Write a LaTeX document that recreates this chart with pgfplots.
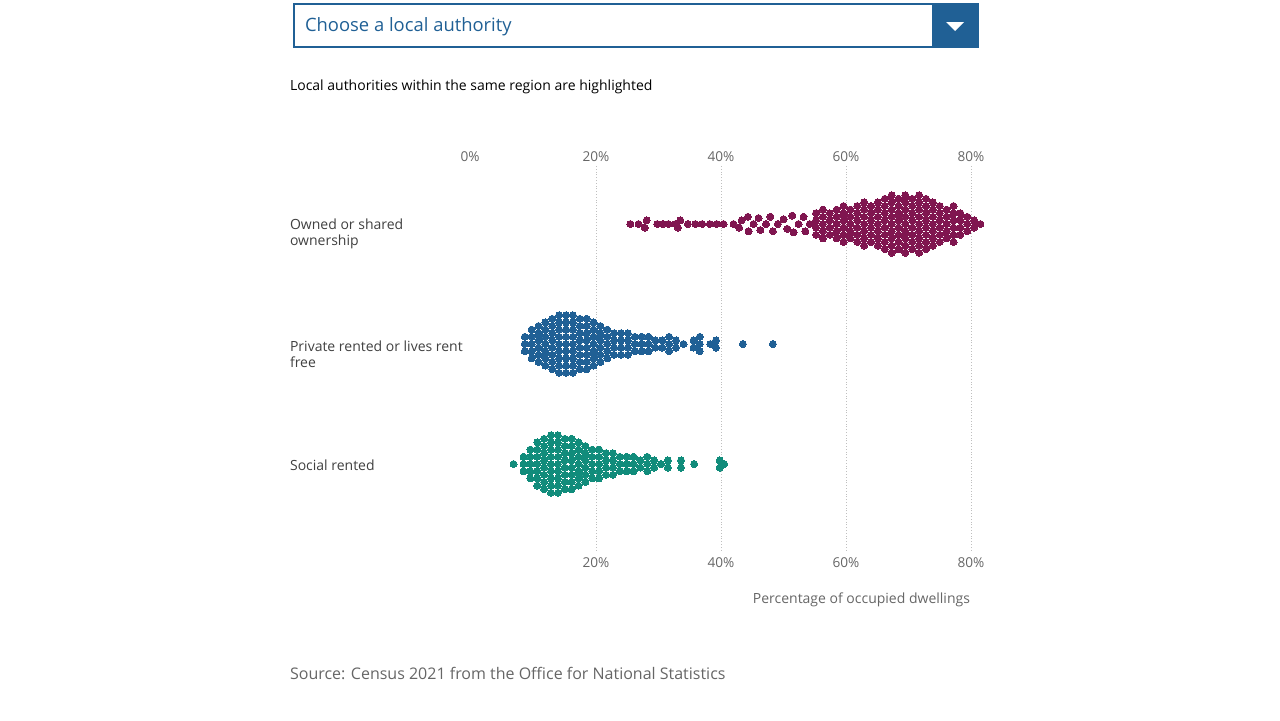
\documentclass[border=0pt]{standalone}
\usepackage{pgfplots}
\pgfplotsset{compat=1.18}
\usepackage{fontspec}
\setmainfont{Open Sans}
\definecolor{ownc}{HTML}{801650}
\definecolor{prvc}{HTML}{206095}
\definecolor{socc}{HTML}{118C7B}
\definecolor{gtx}{HTML}{666666}
\begin{document}
\begin{tikzpicture}
\begin{scope}[x=0.5pt,y=0.5pt]
\path (0,0) rectangle (1280,720);
\draw[prvc,line width=1pt] (294,716) rectangle (978,673);
\fill[prvc] (932,716) rectangle (978,673);
\fill[white] (946,698) -- (964,698) -- (955,689) -- cycle;
\node[anchor=west,text=prvc,font=\fontsize{9.2}{11}\selectfont] at (298,693) {Choose a local authority};
\node[anchor=west,font=\fontsize{7}{8.5}\selectfont] at (283,633) {Local authorities within the same region are highlighted};
\node[anchor=west,align=left,text=black!75,font=\fontsize{7}{8}\selectfont] at (283,486) {Owned or shared\\ownership};
\node[anchor=west,align=left,text=black!75,font=\fontsize{7}{8}\selectfont] at (283,366) {Private rented or lives rent\\free};
\node[anchor=west,text=black!75,font=\fontsize{7}{8}\selectfont] at (283,255) {Social rented};
\node[anchor=east,text=gtx,font=\fontsize{7}{8.5}\selectfont] at (977,120) {Percentage of occupied dwellings};
\node[anchor=west,text=gtx,font=\fontsize{8}{10}\selectfont] at (283,47) {Source: Census 2021 from the Office for National Statistics};
\foreach \px/\lab in {470/0,596/20,721/40,846/60,971/80}
  \node[text=gtx,font=\fontsize{6.8}{8}\selectfont] at (\px,563) {\lab\%};
\end{scope}
\begin{axis}[at={(235.5pt,84.8pt)},anchor=south west,width=250pt,height=192pt,scale only axis,
  xmin=0,xmax=80,ymin=0.28,ymax=3.48,clip=false,
  axis line style={draw=none},tick style={draw=none},
  xtick={-2.08,20,40,60,80},ytick=\empty,
  xticklabels={0\%,20\%,40\%,60\%,80\%},
  xticklabel style={text=gtx,font=\fontsize{6.8}{8}\selectfont},
  xmajorgrids,grid style={densely dotted,black!25,line width=0.5pt}]
\addplot[only marks,mark=*,mark size=1.75pt,color=ownc,mark options={fill=ownc,draw=ownc,line width=0pt}] coordinates {
(25.5,3)(26.8,3)(27.8,2.97)(28.1,3.03)(29.8,3)(30.7,3)(31.6,3)(32.7,3)(33.1,2.97)(33.5,3.03)(34.7,3)(35.9,3)(37,3)(38.2,3)(39.3,3)(40.4,3)(42,3)(42.9,2.97)(43.3,3.03)(44.3,3.06)(44.4,2.94)(45.2,3)(46,3.05)(46.3,2.95)(47.2,3)(47.9,3.06)(48.3,2.94)(49.1,3)(50,3.04)(50.6,2.96)(51.4,3.07)(51.6,2.93)(52.4,3)(53.2,3.06)(53.5,2.94)(54.2,3)
(55.2,2.97)(55.2,3.03)(55.2,2.91)(55.2,3.09)
(56.3,3)(56.3,3.06)(56.3,2.94)(56.3,3.12)(56.3,2.88)
(57.4,2.97)(57.4,3.03)(57.4,2.91)(57.4,3.09)
(58.5,3)(58.5,3.06)(58.5,2.94)(58.5,3.12)(58.5,2.88)
(59.6,2.97)(59.6,3.03)(59.6,2.91)(59.6,3.09)(59.6,2.85)(59.6,3.15)
(60.7,3)(60.7,3.06)(60.7,2.94)(60.7,3.12)(60.7,2.88)
(61.8,2.97)(61.8,3.03)(61.8,2.91)(61.8,3.09)(61.8,2.85)(61.8,3.15)
(62.9,3)(62.9,3.06)(62.9,2.94)(62.9,3.12)(62.9,2.88)(62.9,3.18)(62.9,2.82)
(64.0,2.97)(64.0,3.03)(64.0,2.91)(64.0,3.09)(64.0,2.85)(64.0,3.15)
(65.1,3)(65.1,3.06)(65.1,2.94)(65.1,3.12)(65.1,2.88)(65.1,3.18)(65.1,2.82)
(66.2,2.97)(66.2,3.03)(66.2,2.91)(66.2,3.09)(66.2,2.85)(66.2,3.15)(66.2,2.79)(66.2,3.21)
(67.3,3)(67.3,3.06)(67.3,2.94)(67.3,3.12)(67.3,2.88)(67.3,3.18)(67.3,2.82)(67.3,3.24)(67.3,2.76)
(68.4,2.97)(68.4,3.03)(68.4,2.91)(68.4,3.09)(68.4,2.85)(68.4,3.15)(68.4,2.79)(68.4,3.21)
(69.5,3)(69.5,3.06)(69.5,2.94)(69.5,3.12)(69.5,2.88)(69.5,3.18)(69.5,2.82)(69.5,3.24)(69.5,2.76)
(70.6,2.97)(70.6,3.03)(70.6,2.91)(70.6,3.09)(70.6,2.85)(70.6,3.15)(70.6,2.79)(70.6,3.21)
(71.7,3)(71.7,3.06)(71.7,2.94)(71.7,3.12)(71.7,2.88)(71.7,3.18)(71.7,2.82)(71.7,3.24)(71.7,2.76)
(72.8,2.97)(72.8,3.03)(72.8,2.91)(72.8,3.09)(72.8,2.85)(72.8,3.15)(72.8,2.79)(72.8,3.21)
(73.9,3)(73.9,3.06)(73.9,2.94)(73.9,3.12)(73.9,2.88)(73.9,3.18)(73.9,2.82)
(75.0,2.97)(75.0,3.03)(75.0,2.91)(75.0,3.09)(75.0,2.85)(75.0,3.15)
(76.1,3)(76.1,3.06)(76.1,2.94)(76.1,3.12)(76.1,2.88)
(77.2,2.97)(77.2,3.03)(77.2,2.91)(77.2,3.09)(77.2,2.85)(77.2,3.15)
(78.3,2.97)(78.3,3.03)(78.3,2.91)(78.3,3.09)
(79.4,3)(79.4,3.06)(79.4,2.94)
(80.5,2.97)(80.5,3.03)
(81.5,3)
};
\addplot[only marks,mark=*,mark size=1.75pt,color=prvc,mark options={fill=prvc,draw=prvc,line width=0pt}] coordinates {
(8.6,2)(8.6,2.06)(8.6,1.94)
(9.7,2)(9.7,2.06)(9.7,1.94)(9.7,2.12)(9.7,1.88)
(10.8,1.97)(10.8,2.03)(10.8,1.91)(10.8,2.09)(10.8,1.85)(10.8,2.15)
(11.9,2)(11.9,2.06)(11.9,1.94)(11.9,2.12)(11.9,1.88)(11.9,2.18)(11.9,1.82)
(13.0,1.97)(13.0,2.03)(13.0,1.91)(13.0,2.09)(13.0,1.85)(13.0,2.15)(13.0,1.79)(13.0,2.21)
(14.1,2)(14.1,2.06)(14.1,1.94)(14.1,2.12)(14.1,1.88)(14.1,2.18)(14.1,1.82)(14.1,2.24)(14.1,1.76)
(15.2,2)(15.2,2.06)(15.2,1.94)(15.2,2.12)(15.2,1.88)(15.2,2.18)(15.2,1.82)(15.2,2.24)(15.2,1.76)
(16.3,2)(16.3,2.06)(16.3,1.94)(16.3,2.12)(16.3,1.88)(16.3,2.18)(16.3,1.82)(16.3,2.24)(16.3,1.76)
(17.4,1.97)(17.4,2.03)(17.4,1.91)(17.4,2.09)(17.4,1.85)(17.4,2.15)(17.4,1.79)(17.4,2.21)
(18.5,1.97)(18.5,2.03)(18.5,1.91)(18.5,2.09)(18.5,1.85)(18.5,2.15)(18.5,1.79)(18.5,2.21)
(19.6,2)(19.6,2.06)(19.6,1.94)(19.6,2.12)(19.6,1.88)(19.6,2.18)(19.6,1.82)
(20.7,1.97)(20.7,2.03)(20.7,1.91)(20.7,2.09)(20.7,1.85)(20.7,2.15)
(21.8,2)(21.8,2.06)(21.8,1.94)(21.8,2.12)(21.8,1.88)
(22.9,1.97)(22.9,2.03)(22.9,1.91)(22.9,2.09)
(24.0,1.97)(24.0,2.03)(24.0,1.91)(24.0,2.09)
(25.1,1.97)(25.1,2.03)(25.1,1.91)(25.1,2.09)
(26.2,2)(26.2,2.06)(26.2,1.94)
(27.3,2)(27.3,2.06)(27.3,1.94)
(28.4,2)(28.4,2.06)(28.4,1.94)
(29.5,1.97)(29.5,2.03)
(30.6,1.97)(30.6,2.03)
(31.7,2)(31.7,2.06)(31.7,1.94)
(32.8,1.97)(32.8,2.03)
(34.0,2)
(35.6,1.97)(35.6,2.03)
(36.6,2)(36.6,2.06)(36.6,1.94)
(38.3,2)
(39.2,1.97)(39.2,2.03)
(43.5,2)
(48.3,2)
};
\addplot[only marks,mark=*,mark size=1.75pt,color=socc,mark options={fill=socc,draw=socc,line width=0pt}] coordinates {
(6.8,1)
(8.4,1)(8.4,1.06)(8.4,0.94)
(9.5,1)(9.5,1.06)(9.5,0.94)(9.5,1.12)(9.5,0.88)
(10.6,1)(10.6,1.06)(10.6,0.94)(10.6,1.12)(10.6,0.88)(10.6,1.18)(10.6,0.82)
(11.7,0.97)(11.7,1.03)(11.7,0.91)(11.7,1.09)(11.7,0.85)(11.7,1.15)(11.7,0.79)(11.7,1.21)
(12.8,1)(12.8,1.06)(12.8,0.94)(12.8,1.12)(12.8,0.88)(12.8,1.18)(12.8,0.82)(12.8,1.24)(12.8,0.76)
(13.9,1)(13.9,1.06)(13.9,0.94)(13.9,1.12)(13.9,0.88)(13.9,1.18)(13.9,0.82)(13.9,1.24)(13.9,0.76)
(15.0,0.97)(15.0,1.03)(15.0,0.91)(15.0,1.09)(15.0,0.85)(15.0,1.15)(15.0,0.79)(15.0,1.21)
(16.1,0.97)(16.1,1.03)(16.1,0.91)(16.1,1.09)(16.1,0.85)(16.1,1.15)(16.1,0.79)(16.1,1.21)
(17.2,1)(17.2,1.06)(17.2,0.94)(17.2,1.12)(17.2,0.88)(17.2,1.18)(17.2,0.82)
(18.3,0.97)(18.3,1.03)(18.3,0.91)(18.3,1.09)(18.3,0.85)(18.3,1.15)
(19.4,1)(19.4,1.06)(19.4,0.94)(19.4,1.12)(19.4,0.88)
(20.5,1)(20.5,1.06)(20.5,0.94)(20.5,1.12)(20.5,0.88)
(21.6,0.97)(21.6,1.03)(21.6,0.91)(21.6,1.09)
(22.7,0.97)(22.7,1.03)(22.7,0.91)(22.7,1.09)
(23.8,1)(23.8,1.06)(23.8,0.94)
(24.9,1)(24.9,1.06)(24.9,0.94)
(26.0,1)(26.0,1.06)(26.0,0.94)
(27.1,0.97)(27.1,1.03)
(28.2,1)(28.2,1.06)(28.2,0.94)
(29.3,0.97)(29.3,1.03)
(30.4,1)
(31.5,0.97)(31.5,1.03)
(33.6,0.97)(33.6,1.03)
(35.7,1)
(39.8,0.97)(39.8,1.03)
(40.5,1)
};
\end{axis}
\end{tikzpicture}
\end{document}
